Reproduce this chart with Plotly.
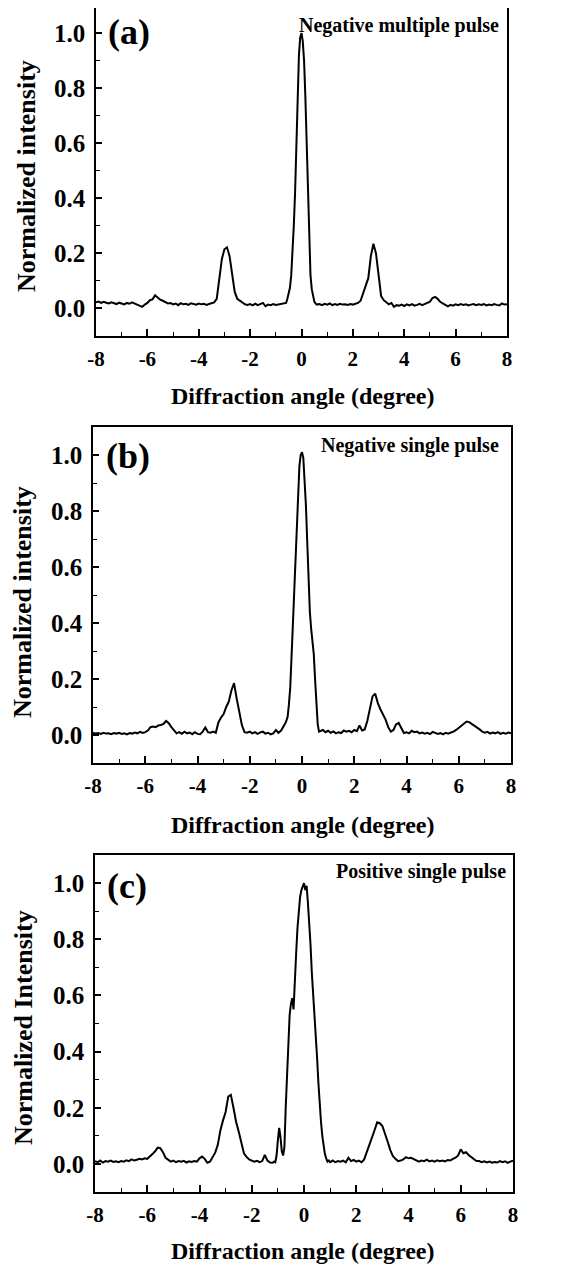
import numpy as np
import plotly.graph_objects as go

W, H = 575, 1271
OFF = 8  # page body margin of the html page
FW, FH = W - 2 * OFF, H - OFF

def grid(a, b, step):
    n = int(round((b - a) / step)) + 1
    return [round(float(v), 3) for v in np.linspace(a, b, n)]

# ---------------- Panel (a): Negative multiple pulse ----------------
ya_left = [  # x = -8.0 .. -0.7, step 0.1
    0.022, 0.025, 0.020, 0.024, 0.021, 0.018, 0.022, 0.019, 0.016, 0.021,
    0.018, 0.015, 0.020, 0.017, 0.022, 0.018, 0.014, 0.012, 0.006, 0.014,
    0.020, 0.030, 0.033, 0.048, 0.040, 0.032, 0.028, 0.022, 0.018, 0.020,
    0.015, 0.018, 0.012, 0.019, 0.015, 0.017, 0.013, 0.019, 0.016, 0.014,
    0.018, 0.015, 0.017, 0.013, 0.016, 0.019, 0.022, 0.035, 0.110, 0.180,
    0.215, 0.222, 0.190, 0.130, 0.060, 0.035, 0.028, 0.020, 0.015, 0.013,
    0.016, 0.011, 0.017, 0.012, 0.015, 0.020, 0.008, 0.014, 0.012, 0.016,
    0.013, 0.015, 0.017, 0.020]
ya_mid = [  # x = -0.6 .. 0.6, step 0.05
    0.020, 0.035, 0.060, 0.075, 0.12, 0.20, 0.30, 0.42, 0.58, 0.78,
    0.92, 0.985, 1.0, 0.97, 0.90, 0.77, 0.58, 0.40, 0.24, 0.12,
    0.07, 0.05, 0.025, 0.018, 0.014]
ya_right = [  # x = 0.7 .. 8.0, step 0.1
    0.016, 0.012, 0.017, 0.014, 0.018, 0.012, 0.016, 0.013, 0.017, 0.014,
    0.015, 0.013, 0.016, 0.014, 0.017, 0.020, 0.028, 0.055, 0.085, 0.110,
    0.190, 0.235, 0.200, 0.110, 0.045, 0.030, 0.022, 0.015, 0.020, 0.006,
    0.012, 0.010, 0.014, 0.009, 0.015, 0.011, 0.016, 0.010, 0.013, 0.017,
    0.012, 0.016, 0.020, 0.025, 0.038, 0.042, 0.035, 0.024, 0.018, 0.012,
    0.008, 0.013, 0.010, 0.015, 0.012, 0.016, 0.013, 0.015, 0.011, 0.014,
    0.016, 0.012, 0.015, 0.013, 0.016, 0.011, 0.014, 0.012, 0.016, 0.013,
    0.011, 0.018, 0.014, 0.015]
xa_left, xa_mid, xa_right = grid(-8.0, -0.7, 0.1), grid(-0.6, 0.6, 0.05), grid(0.7, 8.0, 0.1)

# ---------------- Panel (b): Negative single pulse ----------------
yb_left = [  # x = -8.0 .. -0.8, step 0.1
    0.008, 0.005, 0.007, 0.004, 0.008, 0.005, 0.006, 0.003, 0.007, 0.005,
    0.008, 0.004, 0.006, 0.002, 0.007, 0.005, 0.009, 0.006, 0.011, 0.007,
    0.010, 0.016, 0.028, 0.030, 0.028, 0.034, 0.036, 0.040, 0.050, 0.042,
    0.028, 0.015, 0.006, 0.010, 0.004, 0.012, 0.006, 0.009, 0.003, 0.010,
    0.004, 0.003, 0.012, 0.027, 0.010, 0.008, 0.012, 0.008, 0.045, 0.062,
    0.075, 0.100, 0.120, 0.160, 0.185, 0.130, 0.075, 0.035, 0.010, 0.008,
    0.012, 0.006, 0.010, 0.004, 0.009, 0.012, 0.005, 0.008, 0.002, 0.006,
    0.018, 0.008, 0.016]
yb_mid = [  # x = -0.7 .. 0.7, step 0.05
    0.030, 0.040, 0.050, 0.065, 0.11, 0.17, 0.28, 0.39, 0.52, 0.63,
    0.78, 0.88, 0.96, 1.0, 1.01, 0.99, 0.92, 0.82, 0.69, 0.56,
    0.44, 0.38, 0.33, 0.29, 0.20, 0.11, 0.04, 0.012, 0.015]
yb_right = [  # x = 0.8 .. 8.0, step 0.1
    0.018, 0.010, 0.015, 0.008, 0.013, 0.006, 0.010, 0.007, 0.016, 0.012,
    0.015, 0.010, 0.018, 0.014, 0.034, 0.016, 0.020, 0.050, 0.100, 0.138,
    0.148, 0.115, 0.092, 0.075, 0.055, 0.028, 0.012, 0.018, 0.038, 0.043,
    0.022, 0.007, 0.010, 0.006, 0.015, 0.010, 0.012, 0.006, 0.009, 0.005,
    0.008, 0.003, 0.011, 0.008, 0.004, 0.007, 0.002, 0.008, 0.005, 0.009,
    0.012, 0.018, 0.025, 0.035, 0.042, 0.048, 0.046, 0.040, 0.032, 0.025,
    0.020, 0.012, 0.008, 0.011, 0.005, 0.009, 0.006, 0.010, 0.004, 0.008,
    0.005, 0.009, 0.006]
xb_left, xb_mid, xb_right = grid(-8.0, -0.8, 0.1), grid(-0.7, 0.7, 0.05), grid(0.8, 8.0, 0.1)

# ---------------- Panel (c): Positive single pulse ----------------
yc_left = [  # x = -8.0 .. -1.3, step 0.1
    0.010, 0.006, 0.012, 0.005, 0.010, 0.008, 0.012, 0.007, 0.009, 0.006,
    0.010, 0.008, 0.013, 0.010, 0.016, 0.012, 0.015, 0.018, 0.016, 0.020,
    0.018, 0.025, 0.035, 0.045, 0.058, 0.056, 0.042, 0.022, 0.015, 0.008,
    0.012, 0.006, 0.010, 0.008, 0.011, 0.005, 0.009, 0.007, 0.010, 0.008,
    0.020, 0.026, 0.018, 0.004, 0.008, 0.022, 0.040, 0.068, 0.120, 0.155,
    0.185, 0.240, 0.246, 0.200, 0.150, 0.115, 0.075, 0.038, 0.025, 0.016,
    0.012, 0.008, 0.011, 0.006, 0.010, 0.032, 0.012, 0.005]
yc_mid = [  # x = -1.2 .. 1.0, step 0.05
    0.004, 0.008, 0.006, 0.030, 0.085, 0.128, 0.095, 0.045, 0.030, 0.060,
    0.20, 0.33, 0.45, 0.53, 0.57, 0.59, 0.55, 0.63, 0.75, 0.84,
    0.90, 0.95, 0.975, 0.99, 1.0, 0.975, 0.99, 0.93, 0.87, 0.78,
    0.68, 0.61, 0.55, 0.47, 0.38, 0.29, 0.21, 0.15, 0.10, 0.06,
    0.035, 0.02, 0.008, 0.012, 0.006]
yc_right = [  # x = 1.1 .. 8.0, step 0.1
    0.012, 0.006, 0.010, 0.008, 0.012, 0.006, 0.022, 0.010, 0.014, 0.008,
    0.012, 0.006, 0.015, 0.040, 0.065, 0.090, 0.120, 0.148, 0.145, 0.135,
    0.110, 0.080, 0.050, 0.028, 0.018, 0.010, 0.012, 0.016, 0.024, 0.020,
    0.022, 0.017, 0.012, 0.008, 0.012, 0.010, 0.015, 0.009, 0.012, 0.008,
    0.013, 0.010, 0.012, 0.009, 0.014, 0.012, 0.018, 0.022, 0.030, 0.052,
    0.038, 0.042, 0.032, 0.025, 0.015, 0.010, 0.010, 0.006, 0.009, 0.005,
    0.008, 0.004, 0.007, 0.005, 0.010, 0.006, 0.009, 0.004, 0.008, 0.012]
xc_left, xc_mid, xc_right = grid(-8.0, -1.3, 0.1), grid(-1.2, 1.0, 0.05), grid(1.1, 8.0, 0.1)

panel_labels = ["(a)", "(b)", "(c)"]
panel_notes = ["Negative multiple pulse", "Negative single pulse", "Positive single pulse"]
y_titles = ["Normalized intensity", "Normalized intensity", "Normalized Intensity"]
x_title = "Diffraction angle (degree)"
x_tickvals = [-8, -6, -4, -2, 0, 2, 4, 6, 8]
x_ticktext = ["-8", "-6", "-4", "-2", "0", "2", "4", "6", "8"]
y_tickvals = [0.0, 0.2, 0.4, 0.6, 0.8, 1.0]
y_ticktext = ["0.0", "0.2", "0.4", "0.6", "0.8", "1.0"]
y_ranges = [[-0.1, 1.091], [-0.1, 1.1], [-0.1, 1.1]]

series = []
for segs in [((xa_left, ya_left), (xa_mid, ya_mid), (xa_right, ya_right)),
             ((xb_left, yb_left), (xb_mid, yb_mid), (xb_right, yb_right)),
             ((xc_left, yc_left), (xc_mid, yc_mid), (xc_right, yc_right))]:
    xs, ys = [], []
    for xx, yy in segs:
        if len(xx) != len(yy):
            raise ValueError(f"length mismatch {len(xx)} vs {len(yy)} starting at {xx[0]}")
        xs += xx
        ys += yy
    series.append((xs, ys))

# layout geometry (window pixels)
boxes = [  # left, right, top, bottom
    (96, 507, 8, 336),
    (93, 511, 427, 763),
    (95, 513, 855, 1192),
]
FONT = "Liberation Serif, Times New Roman, serif"

def px(x):
    return min(1.0, max(0.0, (x - OFF) / FW))

def py(y):
    return min(1.0, max(0.0, 1 - (y - OFF) / FH))

fig = go.Figure()
layout = dict(template="none", width=FW, height=FH, margin=dict(l=0, r=0, t=0, b=0, pad=0),
              autosize=False, paper_bgcolor="white", plot_bgcolor="white", showlegend=False)
annotations = []
for i, ((xs, ys), (l, r, t, b)) in enumerate(zip(series, boxes)):
    k = "" if i == 0 else str(i + 1)
    fig.add_trace(go.Scatter(x=xs, y=ys, mode="lines", line=dict(color="black", width=2),
                             xaxis="x" + k, yaxis="y" + k, hoverinfo="skip", cliponaxis=False))
    layout["xaxis" + k] = dict(
        domain=[px(l), px(r)], anchor="y" + k, range=[-8, 8], automargin=False,
        tickvals=x_tickvals, ticktext=x_ticktext,
        showline=True, mirror=True, linecolor="black", linewidth=1.5,
        ticks="inside", ticklen=7, tickwidth=1.5, tickcolor="black",
        minor=dict(ticks="inside", ticklen=4, dtick=1, tick0=0, tickcolor="black", tickwidth=1.2,
                   showgrid=False),
        showgrid=False, zeroline=False, ticklabelstandoff=3,
        tickfont=dict(family=FONT, size=21, color="black", weight="bold"))
    layout["yaxis" + k] = dict(
        domain=[py(b), py(t)], anchor="x" + k, range=y_ranges[i], automargin=False,
        tickvals=y_tickvals, ticktext=y_ticktext,
        showline=True, mirror=True, linecolor="black", linewidth=1.5,
        ticks="inside", ticklen=6, tickwidth=1.5, tickcolor="black",
        minor=dict(ticks="inside", ticklen=4, dtick=0.1, tick0=0, tickcolor="black", tickwidth=1.2,
                   showgrid=False),
        showgrid=False, zeroline=False, ticklabelstandoff=4,
        tickfont=dict(family=FONT, size=25, color="black", weight="bold"))

label_pos = [(106, 32), (104, 456), (105, 886)]
note_pos = [(501, 25), (501, 445), (508, 871)]
ytitle_pos = [(26, 176), (22, 602), (23, 1028)]
xtitle_pos = [(302, 396), (302, 825), (302, 1251)]
for i in range(3):
    annotations.append(dict(text=panel_labels[i], x=px(label_pos[i][0]), y=py(label_pos[i][1]),
                            xref="paper", yref="paper", xanchor="left", yanchor="middle", showarrow=False,
                            font=dict(family=FONT, size=36, color="black", weight="bold")))
    annotations.append(dict(text=panel_notes[i], x=px(note_pos[i][0]), y=py(note_pos[i][1]),
                            xref="paper", yref="paper", xanchor="right", yanchor="middle", showarrow=False,
                            font=dict(family=FONT, size=20, color="black", weight="bold")))
    annotations.append(dict(text=y_titles[i], x=px(ytitle_pos[i][0]), y=py(ytitle_pos[i][1]),
                            xref="paper", yref="paper", xanchor="center", yanchor="middle", showarrow=False,
                            textangle=-90,
                            font=dict(family=FONT, size=26, color="black", weight="bold")))
    annotations.append(dict(text=x_title, x=px(xtitle_pos[i][0]), y=py(xtitle_pos[i][1]),
                            xref="paper", yref="paper", xanchor="center", yanchor="middle", showarrow=False,
                            font=dict(family=FONT, size=24, color="black", weight="bold")))
layout["annotations"] = annotations
fig.update_layout(**layout)
fig.write_html("out.html")
